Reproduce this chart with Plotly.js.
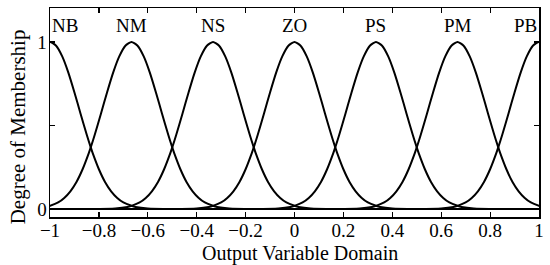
<!DOCTYPE html>
<html>
<head>
<meta charset="utf-8">
<script src="https://cdn.plot.ly/plotly-3.0.1.min.js"></script>
<style>
  html, body { margin: 0; padding: 0; background: #fff; }
  #chart { width: 550px; height: 265px; }
</style>
</head>
<body>
<div id="chart"></div>
<script>
// fuzzy set labels and the centre of each membership curve
const labels = ['NB', 'NM', 'NS', 'ZO', 'PS', 'PM', 'PB'];
const centers = [-1, -0.6667, -0.3333, 0, 0.3333, 0.6667, 1];

// one membership curve (distance from centre -> degree)
const offsets = [0, 0.025, 0.05, 0.075, 0.1, 0.125, 0.15, 0.1667, 0.175, 0.2, 0.225, 0.25, 0.275, 0.3, 0.3333, 0.35, 0.4, 0.5, 1, 2];
const degree  = [1, 0.978, 0.914, 0.817, 0.698, 0.571, 0.446, 0.369, 0.333, 0.238, 0.162, 0.106, 0.066, 0.039, 0.019, 0.012, 0.003, 0, 0, 0];

const serif = 'Liberation Serif, Times New Roman, serif';

const traces = centers.map(c => {
    const xs = [], ys = [];
    // left half (mirrored), then right half
    for (let i = offsets.length - 1; i > 0; i--) { xs.push(c - offsets[i]); ys.push(degree[i]); }
    for (let i = 0; i < offsets.length; i++) { xs.push(c + offsets[i]); ys.push(degree[i]); }
    return {
        x: xs, y: ys,
        type: 'scatter', mode: 'lines',
        line: { color: '#000', width: 2, shape: 'spline', smoothing: 0.6 },
        hoverinfo: 'skip'
    };
});

const annotations = labels.map((t, i) => {
    const a = { x: centers[i], y: 1.1, text: t, showarrow: false, font: { family: serif, size: 19, color: '#000' }, xanchor: 'center', yanchor: 'middle' };
    if (i === 0) { a.xanchor = 'left'; }
    if (i === labels.length - 1) { a.xanchor = 'right'; }
    return a;
});

// axis titles as annotations so they can sit where the original has them
annotations.push({
    xref: 'paper', yref: 'paper', x: 0.5112, y: 0, yshift: -36,
    text: 'Output Variable Domain', showarrow: false,
    xanchor: 'center', yanchor: 'middle',
    font: { family: serif, size: 20, color: '#000' }
});
annotations.push({
    xref: 'paper', yref: 'paper', x: -0.065, y: 0.43,
    text: 'Degree of Membership', showarrow: false, textangle: -90,
    xanchor: 'center', yanchor: 'middle',
    font: { family: serif, size: 21, color: '#000' }
});

const axisCommon = {
    showline: true, linecolor: '#000', linewidth: 1.5, mirror: 'ticks',
    ticks: 'inside', ticklen: 5, tickwidth: 1.2, tickcolor: '#000',
    showgrid: false, zeroline: false,
    tickfont: { family: serif, size: 19, color: '#000' }
};

const layout = {
    width: 550, height: 265,
    margin: { l: 50, r: 11, t: 8, b: 48 },
    paper_bgcolor: '#fff', plot_bgcolor: '#fff',
    showlegend: false,
    annotations: annotations,
    xaxis: Object.assign({}, axisCommon, {
        range: [-1, 1],
        tickvals: [-1, -0.8, -0.6, -0.4, -0.2, 0, 0.2, 0.4, 0.6, 0.8, 1],
        ticktext: ['\u22121', '\u22120.8', '\u22120.6', '\u22120.4', '\u22120.2', '0', '0.2', '0.4', '0.6', '0.8', '1'],
        ticklabelstandoff: -4
    }),
    yaxis: Object.assign({}, axisCommon, {
        range: [-0.048, 1.204],
        tickvals: [0, 0.5, 1],
        ticktext: ['0', '', '1'],
        ticklabelstandoff: -2
    })
};

Plotly.newPlot('chart', traces, layout, { staticPlot: true, displayModeBar: false });
</script>
</body>
</html>
